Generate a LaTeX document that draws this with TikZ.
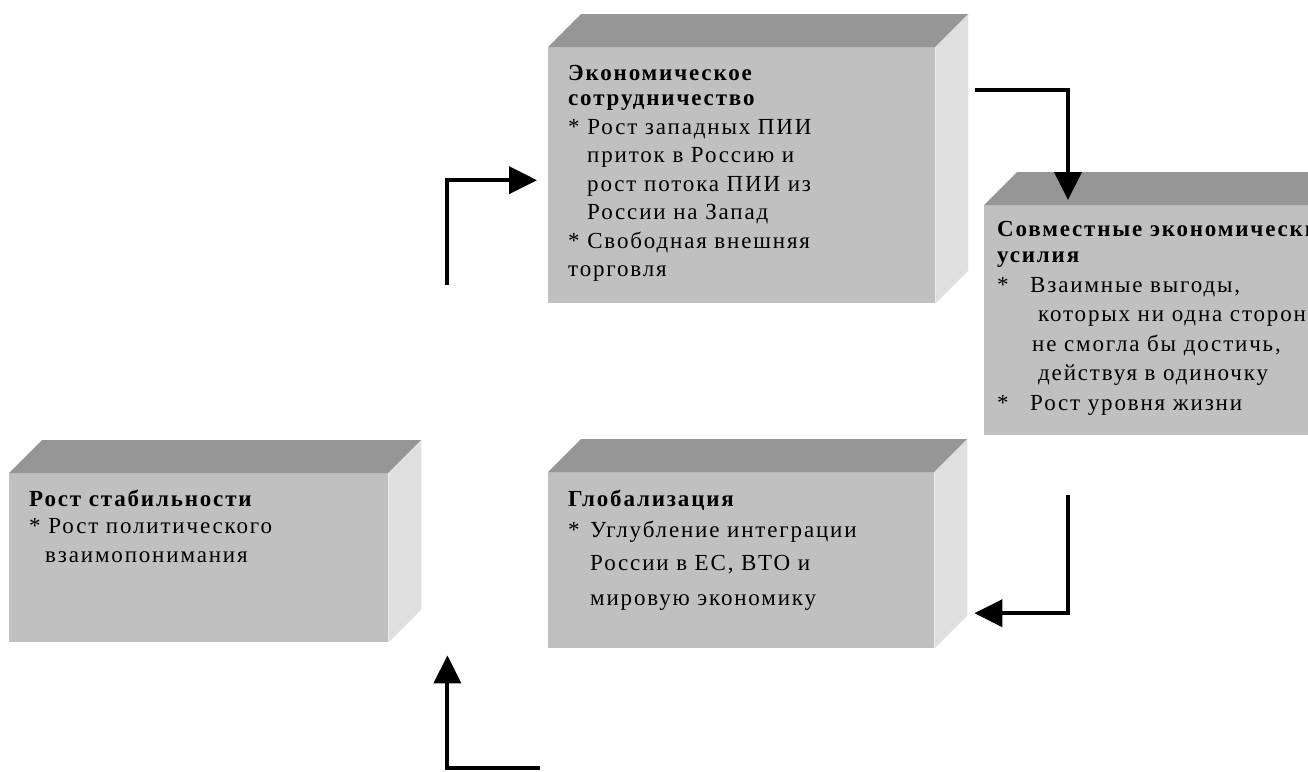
\documentclass[tikz,border=0pt]{standalone}
\usepackage{fontspec}
\setmainfont{Liberation Serif}[LetterSpace=8]
\usetikzlibrary{arrows.meta,calc}
\definecolor{frontgray}{HTML}{C0C0C0}
\definecolor{topgray}{HTML}{969696}
\definecolor{sidegray}{HTML}{E0E0E0}
\begin{document}
\begin{tikzpicture}[x=1pt,y=-1pt,
  front/.style={fill=frontgray,draw=none,anchor=north west,inner sep=0pt},
  txt/.style={anchor=north west,inner sep=0pt,align=left,
    font=\fontsize{23}{28.5}\selectfont},
  flow/.style={line width=4pt,-{Triangle[length=28pt,width=27pt]}}]
\useasboundingbox (0,0) rectangle (1308,771);
\clip (0,0) rectangle (1308,771);
% box fronts
\node[front,minimum width=387pt,minimum height=256pt] (b1) at (548,47) {};
\node[front,minimum width=387pt,minimum height=230pt] (b2) at (984,205) {};
\node[front,minimum width=379pt,minimum height=169pt] (b3) at (9,473) {};
\node[front,minimum width=386pt,minimum height=176pt] (b4) at (548,472) {};
% 3D faces
\foreach \b in {b1,b2,b3,b4}{
  \fill[topgray] (\b.north west) -- ($(\b.north west)+(33,-33)$)
     -- ($(\b.north east)+(33,-33)$) -- (\b.north east) -- cycle;
  \fill[sidegray] (\b.north east) -- ($(\b.north east)+(33,-33)$)
     -- ($(\b.south east)+(33,-33)$) -- (\b.south east) -- cycle;
}
% texts
\node[txt] (t1) at ($(b1.north west)+(20,18)$) {%
  \textbf{Экономическое}\\[-3pt]
  \textbf{сотрудничество}\\
  * Рост западных ПИИ\\
  \hspace*{19pt}приток в Россию и\\
  \hspace*{19pt}рост потока ПИИ из\\
  \hspace*{19pt}России на Запад\\
  * Свободная внешняя\\
  торговля};
\node[txt,font=\fontsize{23}{29.5}\selectfont] (t2) at ($(b2.north west)+(13,16)$) {%
  \textbf{Совместные экономические}\\[-3pt]
  \textbf{усилия}\\
  \makebox[33pt][l]{*}Взаимные выгоды,\\
  \hspace*{41pt}которых ни одна сторона\\
  \hspace*{35pt}не смогла бы достичь,\\
  \hspace*{41pt}действуя в одиночку\\
  \makebox[33pt][l]{*}Рост уровня жизни};
\node[txt] (t3) at ($(b3.north west)+(20,17)$) {%
  \textbf{Рост стабильности}\\[-2pt]
  * Рост политического\\[0.5pt]
  \hspace*{16pt}взаимопонимания};
\node[txt] (t4) at ($(b4.north west)+(20,18)$) {%
  \textbf{Глобализация}\\[2.5pt]
  \makebox[22pt][l]{*}Углубление интеграции\\[4pt]
  \hspace*{22pt}России в ЕС, ВТО и\\[6.5pt]
  \hspace*{22pt}мировую экономику};
% connectors
\coordinate (a1s) at (447,285);
\coordinate (a2s) at (975,90);
\coordinate (a3s) at (1068,495);
\coordinate (a4s) at (540,768);
\draw[flow] (a1s) |- ($(b1.west)+(-11,5)$);
\draw[flow] (a2s) -| ($(b2.north west)+(84,-5)$);
\draw[flow] (a3s) |- ($(b4.east)+(40,53)$);
\draw[flow] (a4s) -| ($(b3.south east)+(59,13)$);
\end{tikzpicture}
\end{document}
